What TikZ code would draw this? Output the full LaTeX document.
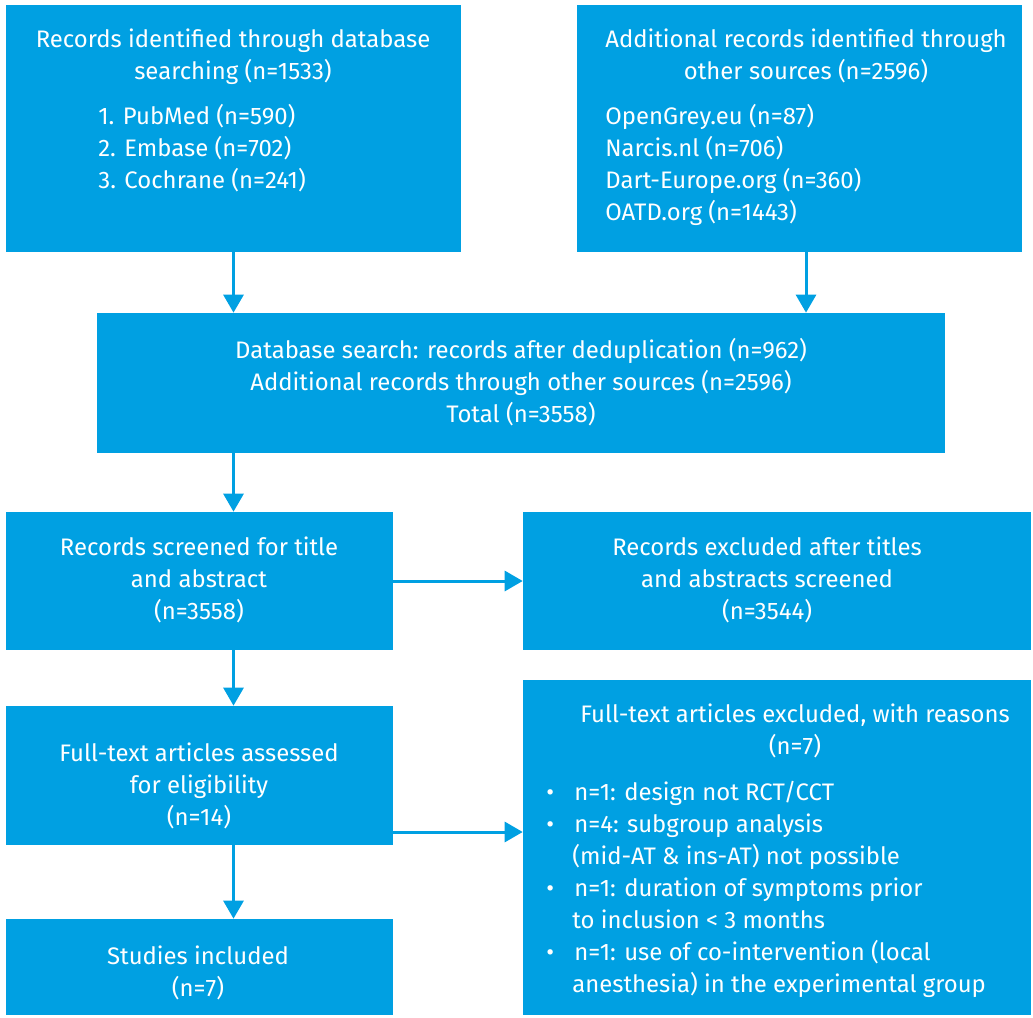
\documentclass[tikz,border=0pt]{standalone}
\usepackage{fontspec}
\setmainfont{Fira Sans}
\usetikzlibrary{positioning}
\usetikzlibrary{arrows.meta}
\definecolor{flowblue}{RGB}{0,160,226}

\begin{document}
\begin{tikzpicture}[
    x=0.02cm, y=-0.02cm,
    box/.style={rectangle, fill=flowblue, inner sep=0pt},
    txt/.style={text=white, font=\fontsize{13.6}{18.2}\selectfont, inner sep=0pt, align=center, anchor=base},
    lst/.style={txt, align=left, anchor=base west},
    arrow/.style={-{Triangle[width=0.4cm, length=0.36cm]}, line width=0.06cm, draw=flowblue}
]
\useasboundingbox (0,0) rectangle (1033,1017);

% Boxes
\node[box, minimum width=9.1cm, minimum height=4.94cm] (ident) at (233.5,128.5) {};
\node[box, minimum width=8.9cm, minimum height=4.94cm] (other) at (799.5,128.5) {};
\node[box, minimum width=16.96cm, minimum height=2.8cm] (dedup) at (521,383) {};
\node[box, minimum width=7.74cm, minimum height=2.76cm] (screen) at (199.5,581) {};
\node[box, minimum width=10.16cm, minimum height=2.76cm] (excl) at (777,581) {};
\node[box, minimum width=7.74cm, minimum height=2.78cm] (full) at (199.5,775.5) {};
\node[box, minimum width=10.16cm, minimum height=6.7cm] (reasons) at (777,847.5) {};
\node[box, minimum width=7.74cm, minimum height=1.92cm] (incl) at (199.5,967) {};

% Texts (anchored at the baseline of their last line)
\node[txt] (identT) at (233,79) {Records identified through database\\searching (n=1533)};
\node[lst] (identL) at (98,188) {1. PubMed (n=590)\\2. Embase (n=702)\\3. Cochrane (n=241)};
\node[txt] (otherT) at (806,79) {Additional records identified through\\other sources (n=2596)};
\node[lst] (otherL) at (605,220) {OpenGrey.eu (n=87)\\Narcis.nl (n=706)\\Dart-Europe.org (n=360)\\OATD.org (n=1443)};
\node[txt] (dedupT) at (521,422) {Database search: records after deduplication (n=962)\\Additional records through other sources (n=2596)\\Total (n=3558)};
\node[txt] (screenT) at (199,619) {Records screened for title\\and abstract\\(n=3558)};
\node[txt] (exclT) at (767,619) {Records excluded after titles\\and abstracts screened\\(n=3544)};
\node[txt] (fullT) at (199,825) {Full-text articles assessed\\for eligibility\\(n=14)};
\node[txt] (inclT) at (198,996) {Studies included\\(n=7)};
\node[txt] (reasonsT) at (795,754) {Full-text articles excluded, with reasons\\(n=7)};
\node[lst] (reasonsL) at (546,992) {%
    \makebox[0.56cm][l]{\textbullet}n=1: design not RCT/CCT\\
    \makebox[0.56cm][l]{\textbullet}n=4: subgroup analysis\\
    \hspace{0.52cm}(mid-AT \& ins-AT) not possible\\
    \makebox[0.56cm][l]{\textbullet}n=1: duration of symptoms prior\\
    \hspace{0.52cm}to inclusion < 3 months\\
    \makebox[0.56cm][l]{\textbullet}n=1: use of co-intervention (local\\
    \hspace{0.52cm}anesthesia) in the experimental group};

% Arrows
\coordinate (otherOut) at ([xshift=0.13cm]other.south);
\coordinate (fullOut) at ([yshift=-1.13cm]full.east);
\draw[arrow] (ident.south) -- (ident.south |- dedup.north);
\draw[arrow] (otherOut) -- (otherOut |- dedup.north);
\draw[arrow] (dedup.south -| ident.south) -- (screen.north -| ident.south);
\draw[arrow] (screen.east) -- (excl.west);
\draw[arrow] (screen.south -| ident.south) -- (full.north -| ident.south);
\draw[arrow] (fullOut) -- (fullOut -| reasons.west);
\draw[arrow] (full.south -| ident.south) -- (incl.north -| ident.south);

\end{tikzpicture}
\end{document}
